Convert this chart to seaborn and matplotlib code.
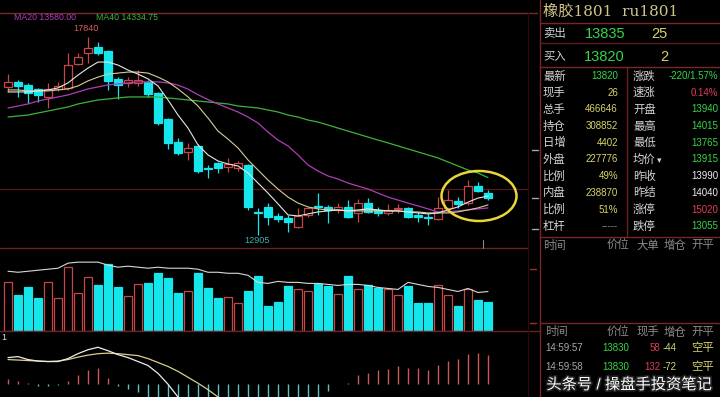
import numpy as np
import pandas as pd
import matplotlib
matplotlib.use("Agg")
import matplotlib.pyplot as plt
import seaborn as sns
from matplotlib.lines import Line2D
from matplotlib.patches import Ellipse
import matplotlib.patheffects as pe

# ---------------- data ----------------
opens = [16595, 16720, 16645, 16545, 16345, 16545, 16570, 17165, 17440, 17590,
         17490, 16795, 16695, 16695, 16720, 16445, 15795, 15225, 14975, 15125,
         14575, 14700, 14600, 14575, 14650, 13480, 13605, 13380, 13330, 13105,
         13405, 13630, 13605, 13530, 13605, 13455, 13700, 13530, 13455, 13555,
         13580, 13405, 13355, 13305, 13580, 13750, 13700, 14125, 13940]
highs = [16915, 16770, 16695, 16570, 16695, 16720, 17440, 17440, 17840, 17715,
         17515, 16840, 16840, 17015, 16770, 16470, 15820, 15320, 15200, 15175,
         14650, 14725, 14825, 14750, 14670, 13580, 13700, 13455, 13405, 13580,
         13605, 13950, 13655, 13700, 13780, 13800, 13825, 13605, 13680, 13680,
         13605, 13480, 13455, 13850, 14025, 13850, 14275, 14225, 14015]
lows = [16470, 16345, 16195, 16220, 16070, 16495, 16520, 17140, 17190, 17390,
        16520, 16295, 16595, 16620, 16345, 15645, 15050, 14900, 14775, 14450,
        14325, 14450, 14475, 14500, 13530, 12905, 13155, 13230, 12980, 13080,
        13355, 13405, 13205, 13455, 13330, 13230, 13455, 13380, 13405, 13455,
        13330, 13230, 13155, 13280, 13530, 13580, 13655, 13975, 13765]
closes = [16720, 16620, 16445, 16395, 16545, 16620, 17140, 17340, 17565, 17440,
          16745, 16645, 16770, 16770, 16420, 15695, 15200, 14950, 15075, 14500,
          14550, 14575, 14675, 14700, 13605, 13455, 13355, 13305, 13230, 13380,
          13580, 13605, 13530, 13605, 13355, 13700, 13480, 13455, 13530, 13580,
          13355, 13355, 13330, 13580, 13775, 13680, 14125, 13990, 13820]

ma5 = [16470, 16470, 16470, 16495, 16520, 16570, 16695, 16890, 17065, 17215,
       17215, 17140, 17015, 16915, 16795, 16620, 16270, 15895, 15570, 15150,
       14900, 14750, 14675, 14625, 14450, 14200, 13950, 13680, 13405, 13380,
       13430, 13480, 13505, 13530, 13505, 13530, 13555, 13530, 13505, 13505,
       13480, 13455, 13430, 13455, 13530, 13605, 13725, 13825, 13875]
ma10 = [16520, 16520, 16495, 16495, 16495, 16520, 16545, 16620, 16745, 16840,
        16915, 16940, 16965, 16965, 16940, 16840, 16720, 16545, 16345, 16120,
        15820, 15495, 15295, 15075, 14775, 14525, 14275, 14050, 13850, 13700,
        13605, 13555, 13530, 13530, 13505, 13505, 13505, 13505, 13505, 13505,
        13480, 13480, 13455, 13455, 13455, 13480, 13530, 13580, 13655]
ma20 = [16070, 16120, 16170, 16245, 16295, 16345, 16395, 16470, 16545, 16595,
        16645, 16670, 16695, 16720, 16720, 16720, 16695, 16640, 16540, 16400,
        16280, 16170, 16070, 15970, 15845, 15695, 15470, 15270, 15125, 14900,
        14650, 14500, 14375, 14300, 14200, 14125, 14050, 13950, 13850, 13775,
        13700, 13630, 13555, 13480, 13480, 13505, 13530, 13555, 13580]
ma40 = [15845, 15870, 15895, 15945, 15995, 16045, 16095, 16170, 16220, 16270,
        16295, 16320, 16345, 16345, 16345, 16345, 16320, 16295, 16270, 16245,
        16220, 16195, 16170, 16120, 16095, 16070, 16020, 15970, 15895, 15845,
        15770, 15720, 15645, 15570, 15495, 15420, 15345, 15270, 15200, 15125,
        15050, 14975, 14900, 14825, 14725, 14625, 14525, 14450, 14335]

volume = [784000, 576000, 704000, 528000, 784000, 528000, 1024000, 608000, 864000, 736000,
          1072000, 704000, 560000, 752000, 768000, 928000, 848000, 608000, 640000, 928000,
          688000, 528000, 544000, 448000, 640000, 880000, 400000, 464000, 720000, 672000,
          640000, 752000, 720000, 592000, 880000, 672000, 736000, 688000, 672000, 576000,
          720000, 448000, 448000, 736000, 576000, 400000, 672000, 496000, 466646]
open_interest = [338900, 337400, 338900, 340400, 341900, 343400, 350900, 352400, 352400, 352400,
                 347900, 344900, 346400, 344900, 343400, 344900, 343400, 343400, 343400, 341900,
                 337400, 337400, 335900, 335900, 332900, 322400, 320900, 323900, 322400, 322400,
                 320900, 320900, 319400, 317900, 319400, 319400, 317900, 314900, 313400, 311900,
                 322400, 319400, 316400, 314900, 311900, 308900, 313400, 307400, 308852]

macd_hist = [52, 34, 5, -17, -22, -15, 34, 93, 138, 162,
             59, -17, -52, -86, -140, -170, -200, -230, -250, -270,
             -280, -285, -280, -270, -260, -250, -240, -225, -210, -190,
             -170, -140, -70, -5, 10, 86, 114, 138, 155, 183,
             162, 162, 138, 189, 231, 248, 303, 310, 293]
macd_dif = [267, 277, 247, 232, 227, 227, 257, 307, 347, 372, 337, 297, 267, 227, 187, 107, -3, -133, -263]
macd_dea = [247, 242, 237, 232, 227, 232, 247, 272, 292, 307, 312, 307, 297, 287, 257, 217, 177, 127, 67, 7,
            -58, -133, -203]

prev_settle = 14040
ma20_last, ma40_last = "13580.00", "14334.75"

# ---------------- style ----------------
sns.set_style("dark")
FONT = ['Liberation Sans', 'Noto Sans CJK SC', 'DejaVu Sans']
plt.rcParams['font.family'] = FONT
plt.rcParams['axes.unicode_minus'] = False

W, H = 720, 397
fig = plt.figure(figsize=(7.2, 3.97), dpi=100, facecolor='black')

CYAN = '#14e6ec'
RED = '#c84646'
GRID = '#6e2424'


def pax(x0, y0, x1, y1):
    ax = fig.add_axes([x0 / W, 1 - y1 / H, (x1 - x0) / W, (y1 - y0) / H])
    ax.set_axis_off()
    return ax


def T(x, y, s, color, size, ha='left', family=None, **kw):
    return fig.text(x / W, 1 - y / H, s, color=color, fontsize=size, ha=ha, va='center',
                    family=family or FONT, **kw)


def L(x0, y0, x1, y1, color=GRID, lw=1.0):
    fig.add_artist(Line2D([x0 / W, x1 / W], [1 - y0 / H, 1 - y1 / H], color=color, lw=lw,
                          transform=fig.transFigure))


o = np.array(opens); h = np.array(highs); lo = np.array(lows); c = np.array(closes)
idx = np.arange(len(o))
up = c >= o
XL = (-0.8, 52.0)

# ---------------- main price axes ----------------
ax = pax(0, 12, 528, 248)
ax.set_xlim(*XL)
ax.set_ylim(12581, 18462)
ax.axhline(prev_settle, color='#571818', lw=0.9, zorder=1)
ax.vlines(idx, lo, h, colors=np.where(up, RED, CYAN), lw=0.9, zorder=2)
ax.bar(idx, np.maximum(np.abs(c - o), 22), bottom=np.minimum(o, c), width=0.74,
       color=np.where(up, 'black', CYAN), edgecolor=np.where(up, RED, CYAN), lw=0.9, zorder=3)

ma_df = pd.DataFrame({'i': idx, 'MA5': ma5, 'MA10': ma10, 'MA20': ma20, 'MA40': ma40})
for name, col, lw in [('MA40', '#3cb43c', 0.9), ('MA20', '#b23cb8', 0.9),
                      ('MA10', '#d8cc98', 0.8), ('MA5', '#e6e6e6', 0.8)]:
    sns.lineplot(data=ma_df, x='i', y=name, ax=ax, color=col, lw=lw, legend=False, zorder=4)
ax.set_axis_off()

ihi = int(np.argmax(h)); ilo = int(np.argmin(lo))
ax.annotate(f"{h[ihi]}", (ihi, h[ihi]), xytext=(-2, 8), textcoords='offset pixels',
            ha='center', va='center', color='#d85a5a', fontsize=6.6)
ax.annotate(f"{lo[ilo]}", (ilo, lo[ilo]), xytext=(-1, -6), textcoords='offset pixels',
            ha='center', va='center', color='#3aaeb0', fontsize=6.6)
ax.add_patch(Ellipse((47.1, 13877), width=7.5, height=1246, fill=False, ec='#e8d63a', lw=1.8, zorder=6))

T(14, 18, f"MA20 {ma20_last}", '#b23cc0', 6.3)
T(96, 18, f"MA40 {ma40_last}", '#3cb43c', 6.3)

# ---------------- volume axes ----------------
axv = pax(0, 248, 528, 331)
axv.set_xlim(*XL)
axv.set_ylim(0, 1328000)
vol = np.array(volume)
axv.bar(idx, vol, width=0.74, color=np.where(up, 'black', CYAN),
        edgecolor=np.where(up, RED, CYAN), lw=0.9)
axv.set_axis_off()
axo = pax(0, 248, 528, 331)
axo.set_xlim(*XL)
axo.set_ylim(250352, 373352)
sns.lineplot(x=idx, y=open_interest, ax=axo, color='#d8d8d8', lw=0.8, legend=False)
axo.set_axis_off()

# ---------------- MACD axes ----------------
axm = pax(0, 331, 528, 397)
axm.set_xlim(*XL)
axm.set_ylim(-133, 537)
hist = np.array(macd_hist)
axm.vlines(idx, 0, hist, colors=np.where(hist >= 0, '#c85a5a', '#5cc4c4'), lw=1.0)
sns.lineplot(x=np.arange(len(macd_dea)), y=macd_dea, ax=axm, color='#d8d08a', lw=0.9, legend=False)
sns.lineplot(x=np.arange(len(macd_dif)), y=macd_dif, ax=axm, color='#ececec', lw=0.9, legend=False)
axm.set_axis_off()
T(1, 337, "1", '#e0e0e0', 6.5)

# ---------------- frame lines ----------------
L(0, 13, 537, 13, '#7a2c2c', 1.0)
L(0, 248, 528, 248, '#6a2222', 1.0)
L(0, 330.5, 540, 330.5, '#6a2222', 1.0)
L(528, 13, 528, 397, '#2a0c0c', 0.8)
L(540, 0, 540, 397, '#7a2626', 1.0)
L(540, 23, 720, 23, '#7a2626', 1.0)
L(540, 43, 720, 43, '#5a1c1c', 1.0)
L(540, 67, 720, 67, '#7a2626', 1.0)
L(627, 67, 627, 237, '#6a2222', 1.0)
L(540, 237, 720, 237, '#7a2626', 1.0)
L(540, 323, 720, 323, '#7a2626', 1.0)
for yy in (150, 198, 229):
    L(532, yy, 538, yy, '#a8a8a8', 1.0)
for yy in (269, 323):
    L(530, yy, 536, yy, '#a03030', 1.0)
L(483, 240, 483, 248, '#8a8a8a', 0.8)

# ---------------- right panel ----------------
LAB = '#d4d4d4'; GRN = '#36d448'; YEL = '#d8d46c'; RD = '#e23c58'; WHT = '#ececec'; GRY = '#8c8c8c'
T(543, 12, "橡胶1801  ru1801", '#cfc58a', 11, family=['DejaVu Serif', 'Noto Sans CJK SC'])
T(543, 34, "卖出", LAB, 8.2)
T(625, 34, "13835", GRN, 10.5, ha='right')
T(668, 34, "25", YEL, 10.5, ha='right')
T(543, 57, "买入", LAB, 8.2)
T(625, 57, "13820", GRN, 10.5, ha='right')
T(668, 57, "2", YEL, 10.5, ha='right')

rows = [("最新", "13820", GRN, "涨跌", "-220/1.57%", GRN),
        ("现手", "26", YEL, "速涨", "0.14%", RD),
        ("总手", "466646", YEL, "开盘", "13940", GRN),
        ("持仓", "308852", YEL, "最高", "14015", GRN),
        ("日增", "4402", YEL, "最低", "13765", GRN),
        ("外盘", "227776", YEL, "均价", "13915", GRN),
        ("比例", "49%", YEL, "昨收", "13990", WHT),
        ("内盘", "238870", YEL, "昨结", "14040", WHT),
        ("比例", "51%", YEL, "涨停", "15020", RD),
        ("杠杆", "-----", GRY, "跌停", "13055", GRN)]
for k, (l1, v1, c1, l2, v2, c2) in enumerate(rows):
    y = 76 + 16.7 * k
    T(543, y, l1, LAB, 8.2)
    T(618, y, v1, c1, 7.0, ha='right')
    T(633, y, l2, LAB, 8.2)
    T(718, y, v2, c2, 7.0, ha='right')
T(657, 76 + 16.7 * 5 + 1, "▾", LAB, 6.5, family=['DejaVu Sans'])

for s, x, ha in [("时间", 543, 'left'), ("价位", 618, 'center'), ("大单", 648, 'center'),
                 ("增仓", 675, 'center'), ("开平", 703, 'center')]:
    T(x, 245, s, GRY, 8.2, ha=ha)
for s, x, ha in [("时间", 545, 'left'), ("价位", 618, 'center'), ("现手", 648, 'center'),
                 ("增仓", 675, 'center'), ("开平", 703, 'center')]:
    T(x, 332, s, GRY, 8.2, ha=ha)
ticks = [("14:59:57", "13830", "58", "-44", "空平"),
         ("14:59:58", "13830", "132", "-72", "空平")]
for k, (t, p, q, d, kp) in enumerate(ticks):
    y = 348 + 19 * k
    T(545, y, t, '#a8a8a8', 7.0)
    T(629, y, p, GRN, 7.0, ha='right')
    T(660, y, q, RD, 7.0, ha='right')
    T(677, y, d, YEL, 7.0, ha='right')
    T(703, y, kp, YEL, 8.2, ha='center')

T(629, 385, "头条号 / 操盘手投资笔记", 'white', 11, ha='center',
  path_effects=[pe.withStroke(linewidth=2.5, foreground='#202020')])

fig.savefig("out.png", dpi=100, facecolor='black')
